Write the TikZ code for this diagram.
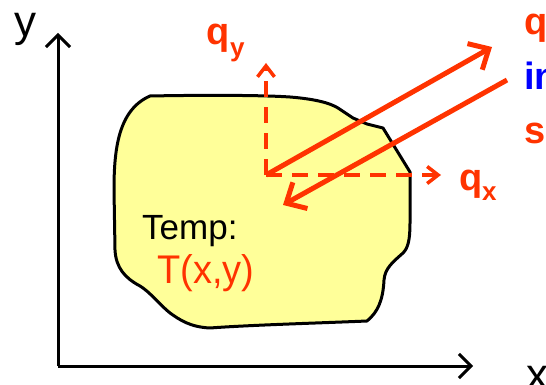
\documentclass[tikz,border=0pt]{standalone}
\usepackage{fontspec}
\setmainfont{Liberation Sans}
\usetikzlibrary{arrows.meta}
\definecolor{qred}{RGB}{255,51,0}
\definecolor{qblue}{RGB}{0,0,255}
\definecolor{blobfill}{RGB}{255,255,153}
\tikzset{
  axis/.style={line width=3pt, black, -{Straight Barb[length=12pt,width=24pt]}},
  flux/.style={line width=3.5pt, qred, dash pattern=on 16pt off 10pt, -{Straight Barb[length=11pt,width=17pt]}},
  ray/.style={line width=5pt, qred, -{Straight Barb[length=16pt,width=30pt]}},
  blob/.style={line width=3pt, draw=black, fill=blobfill, line join=round},
  boldlbl/.style={inner sep=0pt, anchor=base west, text=qred, font=\fontsize{38}{38}\selectfont\bfseries},
  sublbl/.style={inner sep=0pt, anchor=base west, text=qred, font=\fontsize{26}{26}\selectfont\bfseries},
  plainlbl/.style={inner sep=0pt, anchor=base west, font=\fontsize{44}{44}\selectfont}
}
\begin{document}
\begin{tikzpicture}[x=1pt,y=-1pt]
\useasboundingbox (0,0) rectangle (546,385);
\clip (0,0) rectangle (546,385);
% blob
\path[blob] (150,96) .. controls (200,95) and (260,95) .. (290,97)
  .. controls (315,99) and (330,103) .. (338,108) -- (353,118) -- (367,124) -- (383,128)
  -- (410,172) -- (410,223) .. controls (410,240) and (408,248) .. (403,253)
  .. controls (393,262) and (385,268) .. (384,280)
  .. controls (383,300) and (378,312) .. (367,321)
  .. controls (320,323) and (250,325) .. (210,328)
  .. controls (190,327) and (180,320) .. (170,313)
  .. controls (160,305) and (150,292) .. (140,286)
  .. controls (125,278) and (116,268) .. (115,250)
  -- (114,190) .. controls (114,150) and (118,110) .. (150,96) -- cycle;
% axes
\coordinate (O) at (58,366);
\coordinate (Ytip) at (58,33);
\coordinate (Xtip) at (473,366);
\draw[axis] (O) -- (Ytip);
\draw[axis] (O) -- (Xtip);
\node[plainlbl] (ylab) at (14,37) {y};
\node[plainlbl] (xlab) at (526,389) {x};
% fluxes
\coordinate (P) at (266,175);
\coordinate (QYtip) at (266,63);
\coordinate (QXtip) at (441,175);
\draw[flux] (P) -- (QYtip);
\draw[flux] (P) -- (QXtip);
\coordinate (R1tip) at (492,47);
\coordinate (R2start) at (507,80);
\coordinate (R2tip) at (283,205);
\draw[ray] (P) -- (R1tip);
\draw[ray] (R2start) -- (R2tip);
% labels
\node[boldlbl] (qy) at (206,45) {q};
\node[sublbl] (qys) at (230,57) {y};
\node[boldlbl] (qx) at (459,190) {q};
\node[sublbl] (qxs) at (482,200) {x};
\node[boldlbl] (q1) at (524,35) {q};
\node[boldlbl, text=qblue] (in1) at (524,90) {in};
\node[boldlbl] (s1) at (524,143) {s};
\node[inner sep=0pt, anchor=base west, font=\fontsize{35}{35}\selectfont] (temp) at (142,239) {Temp:};
\node[inner sep=0pt, anchor=base west, text=qred, font=\fontsize{40}{40}\selectfont, xscale=0.95] (txy) at (157,283) {T(x,y)};
\end{tikzpicture}
\end{document}
